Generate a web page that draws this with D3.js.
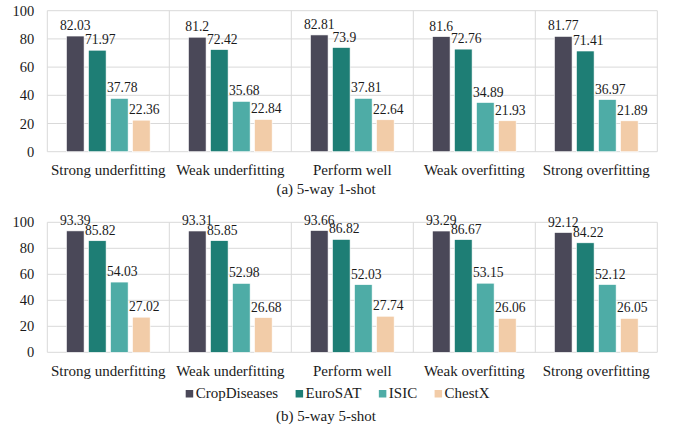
<!DOCTYPE html>
<html>
<head>
<meta charset="utf-8">
<script src="https://cdn.jsdelivr.net/npm/d3@7"></script>
<style>
  html, body { margin: 0; padding: 0; background: #fff; }
  svg { display: block; }
</style>
</head>
<body>
<svg id="chart" width="681" height="429"></svg>
<script>
// Fitting regimes along the x axis
const categories = ["Strong underfitting", "Weak underfitting", "Perform well", "Weak overfitting", "Strong overfitting"];
// Target datasets (one bar per dataset in each regime)
const datasets = ["CropDiseases", "EuroSAT", "ISIC", "ChestX"];
const colors = ["#4a4858", "#1e7e75", "#4eaca6", "#f2cca8"];
const yTicks = [0, 20, 40, 60, 80, 100];

// Accuracy (%) for 5-way 1-shot, per dataset, across regimes
const oneShotCrop    = [82.03, 81.2, 82.81, 81.6, 81.77];
const oneShotEuro    = [71.97, 72.42, 73.9, 72.76, 71.41];
const oneShotIsic    = [37.78, 35.68, 37.81, 34.89, 36.97];
const oneShotChest   = [22.36, 22.84, 22.64, 21.93, 21.89];

// Accuracy (%) for 5-way 5-shot
const fiveShotCrop   = [93.39, 93.31, 93.66, 93.29, 92.12];
const fiveShotEuro   = [85.82, 85.85, 86.82, 86.67, 84.22];
const fiveShotIsic   = [54.03, 52.98, 52.03, 53.15, 52.12];
const fiveShotChest  = [27.02, 26.68, 27.74, 26.06, 26.05];

const panels = [
  { title: "(a) 5-way 1-shot", series: [oneShotCrop, oneShotEuro, oneShotIsic, oneShotChest], top: 10.7, bottom: 151.7, legend: false, titleY: 194 },
  { title: "(b) 5-way 5-shot", series: [fiveShotCrop, fiveShotEuro, fiveShotIsic, fiveShotChest], top: 222.3, bottom: 352.3, legend: true, titleY: 421 }
];

const FONT = "Liberation Serif";
const TEXT = "#1a1a1a";
const svg = d3.select("#chart").attr("font-family", FONT);
const left = 47.3, right = 657.3;
const gridColor = "#d9d9d9";

const x0 = d3.scaleBand().domain(categories).range([left, right]).paddingInner(0).paddingOuter(0);
const x1 = d3.scaleBand().domain(datasets).range([0, x0.bandwidth()]).paddingInner(0.2).paddingOuter(0.87);

panels.forEach(p => {
  const y = d3.scaleLinear().domain([0, 100]).range([p.bottom, p.top]);
  const g = svg.append("g");

  // horizontal gridlines
  g.append("g").selectAll("line").data(yTicks).join("line")
    .attr("x1", left).attr("x2", right)
    .attr("y1", d => y(d)).attr("y2", d => y(d))
    .attr("stroke", gridColor).attr("stroke-width", 1);

  // vertical separators between regimes, plus outer frame
  const seps = categories.map(c => x0(c)).concat([right]);
  g.append("g").selectAll("line").data(seps).join("line")
    .attr("x1", d => d).attr("x2", d => d)
    .attr("y1", y(100)).attr("y2", y(0))
    .attr("stroke", gridColor).attr("stroke-width", 1);

  // y axis tick labels
  const yAxis = d3.axisLeft(y).tickValues(yTicks).tickSize(0).tickPadding(13);
  const ya = g.append("g").attr("transform", `translate(${left},0)`).call(yAxis)
    .attr("font-family", FONT).attr("font-size", 14.5);
  ya.select(".domain").remove();
  ya.selectAll("text").attr("fill", TEXT);

  // x axis category labels
  const xAxis = d3.axisBottom(x0).tickSize(0).tickPadding(13);
  const xa = g.append("g").attr("transform", `translate(0,${y(0)})`).call(xAxis)
    .attr("font-family", FONT).attr("font-size", 15);
  xa.select(".domain").remove();
  xa.selectAll("text").attr("fill", TEXT);

  // bars and value labels
  const rows = [];
  categories.forEach((c, ci) => {
    datasets.forEach((d, si) => rows.push({ c, d, si, v: p.series[si][ci] }));
  });
  g.append("g").selectAll("rect").data(rows).join("rect")
    .attr("x", r => x0(r.c) + x1(r.d))
    .attr("width", x1.bandwidth())
    .attr("y", r => y(r.v))
    .attr("height", r => y(0) - y(r.v))
    .attr("fill", r => colors[r.si])
    .attr("stroke", "#fff").attr("stroke-width", 0.6);

  g.append("g").attr("font-family", FONT).attr("font-size", 13.6)
    .selectAll("text").data(rows).join("text")
    .attr("x", r => x0(r.c) + x1(r.d) + x1.bandwidth() / 2 + (r.si === 0 ? 0 : 3))
    .attr("y", r => y(r.v) - 6)
    .attr("text-anchor", "middle")
    .attr("fill", TEXT)
    .text(r => r.v);

  // legend
  if (p.legend) {
    const lg = svg.append("g").attr("transform", "translate(185.7,398)")
      .attr("font-family", FONT).attr("font-size", 15);
    let xPos = 0;
    datasets.forEach((d, i) => {
      const item = lg.append("g").attr("transform", `translate(${xPos},0)`);
      item.append("rect").attr("x", 0).attr("y", -8).attr("width", 7.5).attr("height", 7.5).attr("fill", colors[i]);
      const t = item.append("text").attr("x", 10).attr("y", 0).attr("fill", TEXT).text(d);
      xPos += 10 + t.node().getComputedTextLength() + 17.4;
    });
  }

  // panel caption
  svg.append("text").attr("x", 326).attr("y", p.titleY).attr("text-anchor", "middle")
    .attr("font-family", FONT).attr("font-size", 15).attr("fill", TEXT).text(p.title);
});
</script>
</body>
</html>
